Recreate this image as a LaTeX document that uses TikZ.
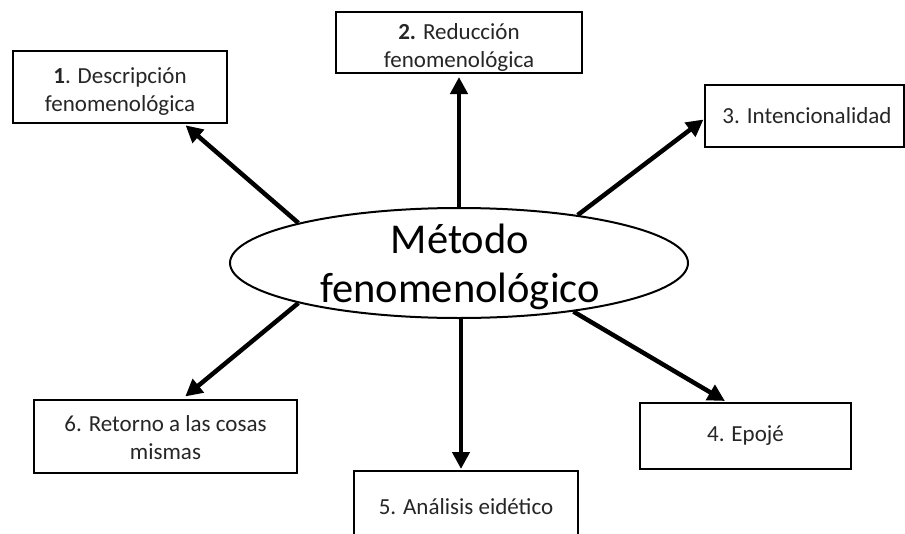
\documentclass[tikz,border=0pt]{standalone}
\usepackage{fontspec}
\setmainfont{Carlito}
\usetikzlibrary{arrows.meta,shapes.geometric}
\begin{document}
\begin{tikzpicture}[x=1pt,y=-1pt,
  box/.style={draw=black, line width=2pt, fill=white, inner sep=0pt, align=center,
    font=\fontsize{23}{28}\selectfont, text=black!85},
  boxtext/.style={inner sep=0pt, align=center, font=\fontsize{23}{28}\selectfont, text=black!85},
  arr/.style={line width=4.5pt, -{Triangle[length=17pt,width=17pt]}}]
\clip (0,0) rectangle (905,533);
\node[box, minimum width=214pt, minimum height=72pt] (b1) at (120,87) {\rule{0pt}{25pt}\textbf{1}. Descripción\\fenomenológica};
\node[box, minimum width=246pt, minimum height=61pt] (b2) at (459,42.5) {};
\node[boxtext] (t2) at (459,47.5) {\textbf{2.} Reducción\\fenomenológica};
\node[box, minimum width=199pt, minimum height=62pt] (b3) at (804,116) {\hspace*{6pt}3. Intencionalidad};
\node[box, minimum width=211pt, minimum height=66pt] (b4) at (745.5,436) {4. Epojé};
\node[box, minimum width=224pt, minimum height=72pt] (b5) at (466,507) {5. Análisis eidético};
\node[box, minimum width=263pt, minimum height=73pt] (b6) at (165.5,436.5) {\rule{0pt}{19pt}6. Retorno a las cosas\\mismas};
\node[ellipse, draw=black, line width=2pt, fill=white, minimum width=458pt, minimum height=110pt, inner sep=0pt] (ell) at (459,263) {};
\node[font=\fontsize{42.5}{49}\selectfont, align=center, inner sep=0pt] (elt) at (460,267) {Método\\fenomenológico};
\draw[arr, shorten >=2pt] (ell.166.5) -- (b1.-30);
\draw[arr, shorten >=3pt] (ell.north) -- (ell.north |- b2.south);
\draw[arr] (ell.22.5) -- (b3.182);
\draw[arr, shorten >=2pt] (ell.-23.3) -- (b4.119);
\draw[arr, shorten >=1pt] ([xshift=2pt]ell.south) -- ([xshift=2pt]ell.south |- b5.north);
\draw[arr, shorten >=4pt] (ell.194.6) -- (b6.66);
\end{tikzpicture}
\end{document}
